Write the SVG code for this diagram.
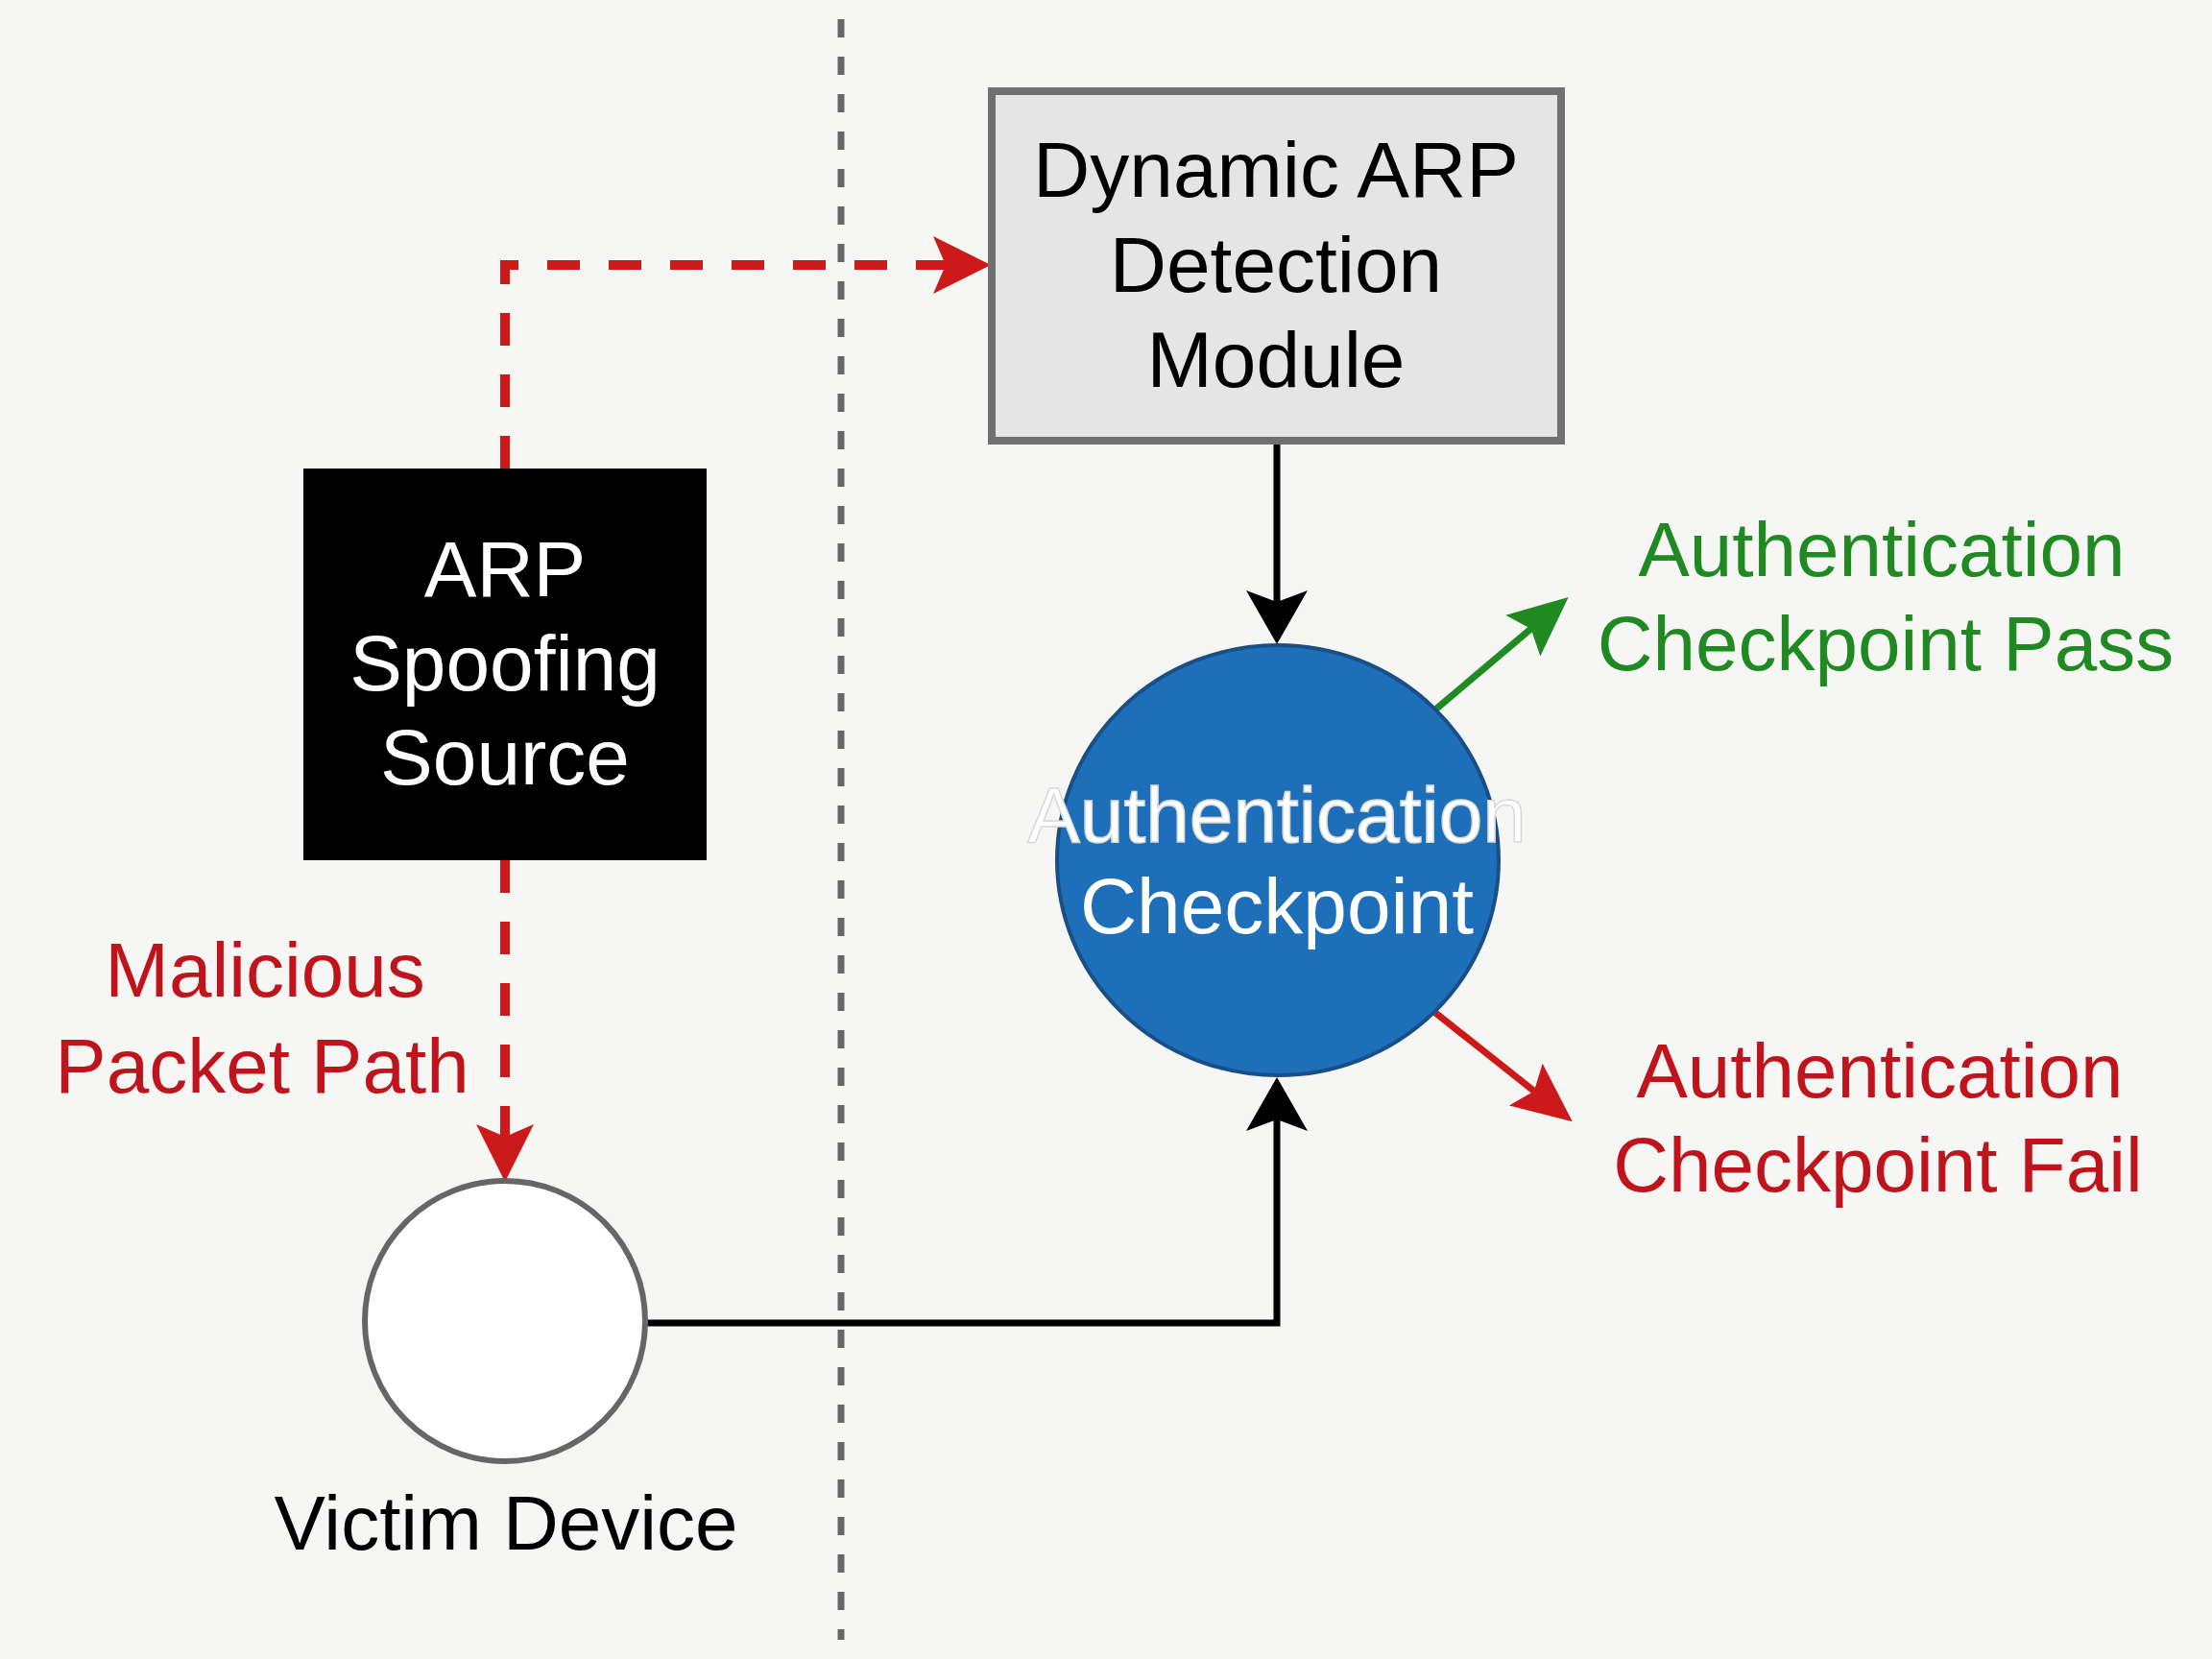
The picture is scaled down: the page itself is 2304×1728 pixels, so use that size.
<svg xmlns="http://www.w3.org/2000/svg" width="2304" height="1728" viewBox="0 0 2304 1728">
  <style>
    text { font-family: "Liberation Sans", Arial, Helvetica, sans-serif; text-anchor: middle; }
    .t82 { font-size: 82px; }
    .t80 { font-size: 80px; }
    .dark { fill: #000000; }
    .white { fill: #ffffff; }
    .red { fill: #c0141c; }
    .green { fill: #1f8a22; }
  </style>
  <defs>
    <marker id="arrRed" markerUnits="userSpaceOnUse" markerWidth="62" markerHeight="62" refX="50" refY="30" orient="auto">
      <path d="M0,0 L60,30 L0,60 L13,30 Z" fill="#cc1a1a"/>
    </marker>
    <marker id="arrBlack" markerUnits="userSpaceOnUse" markerWidth="58" markerHeight="66" refX="46" refY="32" orient="auto">
      <path d="M0,0 L56,32 L0,64 L12,32 Z" fill="#000000"/>
    </marker>
    <marker id="arrGreen" markerUnits="userSpaceOnUse" markerWidth="64" markerHeight="58" refX="52" refY="28" orient="auto">
      <path d="M0,0 L62,28 L0,56 L11,28 Z" fill="#1f8a22"/>
    </marker>
    <marker id="arrRed2" markerUnits="userSpaceOnUse" markerWidth="64" markerHeight="58" refX="52" refY="28" orient="auto">
      <path d="M0,0 L62,28 L0,56 L11,28 Z" fill="#cc1a1a"/>
    </marker>
  </defs>
  <rect x="0" y="0" width="2304" height="1728" fill="#f6f6f4"/>

  <g id="divider">
    <line x1="876" y1="20" x2="876" y2="1708" stroke="#666666" stroke-width="7" stroke-dasharray="19 20"/>
  </g>

  <g id="connectors">
    <path d="M526,488 L526,276 L1022,276" fill="none" stroke="#cc1a1a" stroke-width="10" stroke-dasharray="34 30" marker-end="url(#arrRed)"/>
    <path d="M526,896 L526,1221" fill="none" stroke="#cc1a1a" stroke-width="10" stroke-dasharray="34 30" marker-end="url(#arrRed)"/>
    <path d="M1330,460 L1330,661" fill="none" stroke="#000000" stroke-width="7" marker-end="url(#arrBlack)"/>
    <path d="M673,1378 L1330,1378 L1330,1132" fill="none" stroke="#000000" stroke-width="7" marker-end="url(#arrBlack)"/>
    <path d="M1494,740 L1626,628.5" fill="none" stroke="#1f8a22" stroke-width="7" marker-end="url(#arrGreen)"/>
    <path d="M1494,1054 L1630,1162" fill="none" stroke="#cc1a1a" stroke-width="7" marker-end="url(#arrRed2)"/>
  </g>

  <g id="detection-module">
    <rect x="1033" y="95" width="593" height="364" fill="#e5e5e5" stroke="#707070" stroke-width="8"/>
    <text class="t82 dark" x="1329" y="205">Dynamic ARP</text>
    <text class="t82 dark" x="1329" y="304">Detection</text>
    <text class="t82 dark" x="1329" y="403">Module</text>
  </g>

  <g id="spoofing-source">
    <rect x="316" y="488" width="420" height="408" fill="#000000"/>
    <text class="t82 white" x="526" y="621">ARP</text>
    <text class="t82 white" x="526" y="719">Spoofing</text>
    <text class="t82 white" x="526" y="817">Source</text>
  </g>

  <g id="malicious-label">
    <text class="t80 red" x="276" y="1038">Malicious</text>
    <text class="t80 red" x="273" y="1138">Packet Path</text>
  </g>

  <g id="victim-device">
    <circle cx="526" cy="1376" r="146" fill="#ffffff" stroke="#666666" stroke-width="6"/>
    <text class="t80 dark" x="527" y="1614">Victim Device</text>
  </g>

  <g id="auth-checkpoint">
    <ellipse cx="1331" cy="896" rx="230" ry="224" fill="#1c6fb8" stroke="#1a4f86" stroke-width="4"/>
    <text class="t82 white" x="1330" y="877" stroke="#d8d8d8" stroke-width="1.5">Authentication</text>
    <text class="t82 white" x="1330" y="972">Checkpoint</text>
  </g>

  <g id="pass-label">
    <text class="t80 green" x="1960" y="600">Authentication</text>
    <text class="t80 green" x="1964" y="698">Checkpoint Pass</text>
  </g>

  <g id="fail-label">
    <text class="t80 red" x="1958" y="1143">Authentication</text>
    <text class="t80 red" x="1956" y="1241">Checkpoint Fail</text>
  </g>
</svg>
